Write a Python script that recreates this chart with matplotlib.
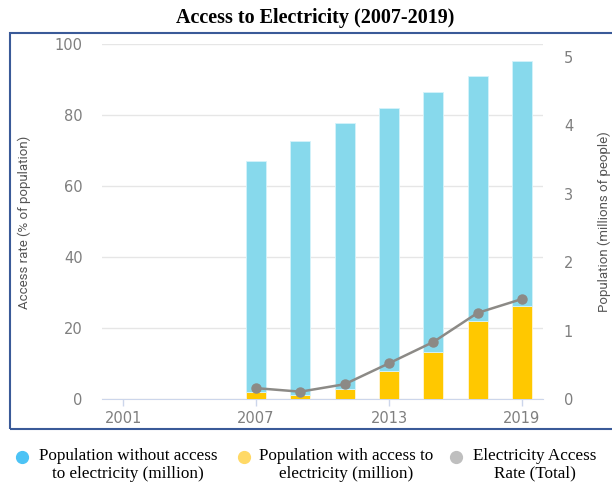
import matplotlib
matplotlib.use('Agg')
import matplotlib.pyplot as plt
from matplotlib.lines import Line2D
from matplotlib.patches import Rectangle

years = [2007, 2009, 2011, 2013, 2015, 2017, 2019]
with_access = [0.11, 0.07, 0.16, 0.41, 0.70, 1.14, 1.37]
without_access = [3.37, 3.70, 3.88, 3.85, 3.79, 3.58, 3.57]
access_rate = [3.2, 2.2, 4.3, 10.2, 16.2, 24.4, 28.3]
xticks = [2001, 2007, 2013, 2019]

legend_labels = ['Population without access\nto electricity (million)',
                 'Population with access to\nelectricity (million)',
                 'Electricity Access\nRate (Total)']
legend_colors = ['#4cc3f5', '#ffd966', '#bfbfbf']

tick_color = '#7f7f7f'
axis_color = '#ccd6eb'
W, H = 612, 486

fig = plt.figure(figsize=(6.12, 4.86), dpi=100)
ax = fig.add_axes([0.1667, 0.178, 0.7206, 0.7305])
ax2 = ax.twinx()
ax3 = ax.twinx()

# left axis: grid + % ticks
ax.set_xlim(2000.05, 2019.95)
ax.set_ylim(0, 100)
ax.set_yticks([0, 20, 40, 60, 80, 100])
ax.grid(axis='y', color='#e6e6e6', linewidth=1)
ax.set_axisbelow(True)
ax.set_xticks(xticks)
ax.tick_params(axis='x', colors=axis_color, length=5, width=1, pad=3,
               labelcolor=tick_color, labelsize=10.5)
ax.tick_params(axis='y', length=0, pad=14, labelcolor=tick_color, labelsize=10.5)
for s in ['top', 'left', 'right']:
    ax.spines[s].set_visible(False)
ax.spines['bottom'].set_color(axis_color)
ax.spines['bottom'].set_zorder(0)
ax.set_ylabel('Access rate (% of population)', family='Roboto', fontsize=9.5, color='#555555')
ax.yaxis.set_label_coords(-0.161, 0.5)

# right axis: stacked bars in millions
ax2.bar(years, with_access, width=0.9, color='#ffc800', edgecolor='#fff6d5', linewidth=0.6)
ax2.bar(years, without_access, width=0.9, bottom=with_access, color='#87d9ec',
        edgecolor='#d5f3fa', linewidth=0.6)
ax2.set_ylim(0, 5.18)
ax2.set_yticks([0, 1, 2, 3, 4, 5])
ax2.tick_params(axis='y', length=0, pad=15, labelcolor=tick_color, labelsize=10.5)
for s in ax2.spines.values():
    s.set_visible(False)
ax2.set_ylabel('Population (millions of people)', family='Roboto', fontsize=9.5,
               color='#555555', rotation=90)
ax2.yaxis.set_label_coords(1.123, 0.5)

# top axis: access rate line on the % scale
ax3.plot(years, access_rate, color='#8c8a86', linewidth=1.8, marker='o', markersize=6.5)
ax3.set_ylim(0, 100)
ax3.set_yticks([])
for s in ax3.spines.values():
    s.set_visible(False)

fig.text(0.515, 1 - 18 / H, 'Access to Electricity (2007-2019)', ha='center', va='center',
         family='Liberation Serif', weight='bold', fontsize=14.5)

fig.patches.append(Rectangle((10 / W, 57 / H), 1.0, 396 / H, transform=fig.transFigure,
                             fill=False, edgecolor='#3a5a98', linewidth=1.5))

# legend: marker beside the first line, two centred lines of text
marker_x = [22, 244, 456]
text_x = [128, 346, 535]
for mx, tx, lab, col in zip(marker_x, text_x, legend_labels, legend_colors):
    fig.add_artist(Line2D([mx / W], [1 - 457 / H], transform=fig.transFigure,
                          linestyle='none', marker='o', markersize=8.5, color=col))
    fig.text(tx / W, 1 - 448 / H, lab, ha='center', va='top', multialignment='center',
             family='Liberation Serif', fontsize=12.3, linespacing=1.15)

fig.savefig('out.png', dpi=100)
